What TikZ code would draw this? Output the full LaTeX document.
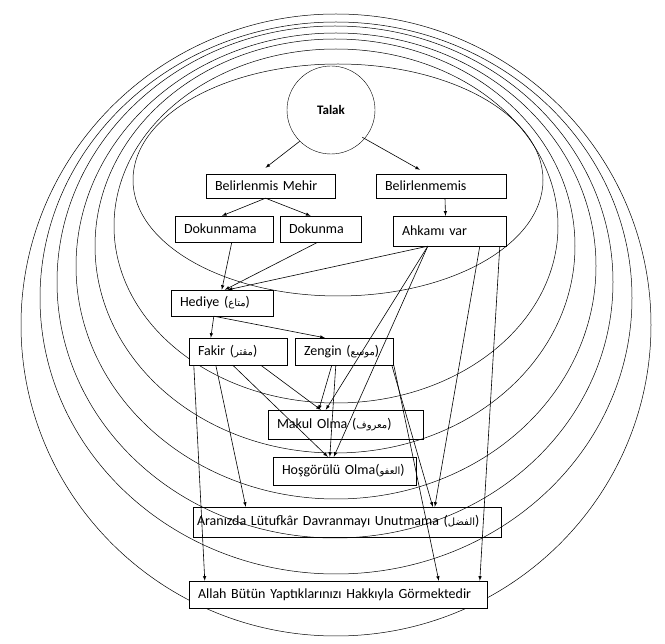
\documentclass[tikz,border=0pt]{standalone}
\usepackage{fontspec}
\setmainfont{Carlito}
\newfontfamily\arabicfont[Script=Arabic]{DejaVu Sans}
\TeXXeTstate=1
\newcommand{\ar}[1]{{\arabicfont\fontsize{10}{11}\selectfont\beginR #1\endR}}
\begin{document}
\begin{tikzpicture}[x=1pt,y=-1pt,
  box/.style={draw,rectangle,inner ysep=0pt,inner xsep=9pt,text width=#1-18pt,align=left,minimum width=#1,font=\fontsize{14}{16}\selectfont},
  arr/.style={-latex,line width=0.6pt},
  ell/.style={draw,line width=0.5pt}]
\useasboundingbox (0,0) rectangle (665,644);
\fill[white] (0,0) rectangle (665,644);
% nested ellipses
\draw[ell] (338,180) ellipse [x radius=205,y radius=116];
\draw[ell] (336,226) ellipse [x radius=222,y radius=177];
\draw[ell] (335,246) ellipse [x radius=240,y radius=207];
\draw[ell] (336,266) ellipse [x radius=260,y radius=233];
\draw[ell] (335,282) ellipse [x radius=278,y radius=256];
\draw[ell] (336,298) ellipse [x radius=296,y radius=276];
\draw[ell] (336,325) ellipse [x radius=315,y radius=311];
% nodes
\node[draw,circle,fill=white,minimum size=88pt,inner sep=0pt,font=\bfseries\fontsize{13}{15}\selectfont] (talak) at (331,110) {Talak};
\node[box=129pt,fill=white,minimum height=24pt] (bm) at (270.5,186) {Belirlenmis Mehir};
\node[box=130pt,fill=white,minimum height=24pt] (bz) at (441,186) {Belirlenmemis};
\node[box=98pt,fill=white,minimum height=26pt,inner xsep=7pt] (dk1) at (224,229) {Dokunmama};
\node[box=81pt,fill=white,minimum height=26pt,inner xsep=6pt] (dk2) at (320.5,229) {Dokunma};
\node[box=113pt,fill=white,minimum height=30pt] (ah) at (449.5,231) {Ahkamı var};
\node[box=102pt,fill=white,minimum height=26pt,inner xsep=7pt] (hd) at (222,303) {Hediye (\ar{متاع})};
\node[box=98pt,fill=white,minimum height=27pt] (fk) at (238,351.5) {Fakir (\ar{مقتر})};
\node[box=98pt,fill=white,minimum height=27pt,inner xsep=6pt] (zg) at (344,351.5) {Zengin (\ar{موسع})};
\node[box=155pt,minimum height=29pt] (mk) at (345.5,424.5) {Makul Olma (\ar{معروف})};
\node[box=143pt,fill=white,minimum height=28pt,inner xsep=7pt] (hs) at (344.5,471) {Hoşgörülü Olma(\ar{العفو})};
\node[draw,rectangle,inner ysep=0pt,inner xsep=4pt,text width=300pt,align=left,minimum width=308pt,font=\fontsize{14}{16}\selectfont,minimum height=30pt] (au) at (347,522) {Aranızda Lütufkâr Davranmayı Unutmama (\ar{الفضل})};
\node[box=298pt,fill=white,minimum height=27pt] (al) at (338,594.5) {Allah Bütün Yaptıklarınızı Hakkıyla Görmektedir};
% edges
\draw[arr] (talak.south west) -- ([xshift=-5pt,yshift=6pt]bm.north);
\draw[arr] ([yshift=4pt]talak.south east) -- ([xshift=-21pt,yshift=4pt]bz.north);
\draw[arr] ([xshift=-5pt]bm.south) -- ([xshift=-2pt]dk1.north);
\draw[arr] ([xshift=-5pt]bm.south) -- ([xshift=-10pt]dk2.north);
\draw[arr] ([xshift=4pt]bz.south) -- ([xshift=-4pt]ah.north);
\draw[arr] ([xshift=57pt]dk1.south west) -- ([xshift=51pt]hd.north west);
\draw[arr] ([xshift=38pt]dk2.south west) -- ([xshift=54pt]hd.north west);
\draw[arr] ([xshift=35pt]ah.south west) -- ([xshift=57pt]hd.north west);
\draw[arr] ([xshift=43pt]hd.south west) -- ([xshift=22pt]fk.north west);
\draw[arr] ([xshift=43pt]hd.south west) -- ([xshift=30pt]zg.north west);
% from Fakir
\draw[arr] ([xshift=5pt]fk.south west) -- ([xshift=16pt]al.north west);
\draw[arr] ([xshift=27pt]fk.south west) -- ([xshift=53pt]au.north west);
\draw[arr] ([xshift=44pt]fk.south west) -- ([xshift=55pt]hs.north west);
\draw[arr] ([xshift=72pt]fk.south west) -- ([xshift=53pt]mk.north west);
% from Zengin
\draw[arr] ([xshift=37pt]zg.south west) -- ([xshift=51pt]mk.north west);
\draw[arr] ([xshift=41pt]zg.south west) -- ([xshift=57pt]hs.north west);
\draw[arr] ([xshift=97pt]zg.south west) -- ([xshift=240pt]au.north west);
\draw[arr] ([xshift=99pt]zg.south west) -- ([xshift=250pt]al.north west);
% from Ahkami var
\draw[arr] ([xshift=35pt]ah.south west) -- ([xshift=58pt]mk.north west);
\draw[arr] ([xshift=35pt]ah.south west) -- ([xshift=61pt]hs.north west);
\draw[arr] ([xshift=87pt]ah.south west) -- ([xshift=242pt]au.north west);
\draw[arr] ([xshift=107pt]ah.south west) -- ([xshift=291pt]al.north west);
\end{tikzpicture}
\end{document}
